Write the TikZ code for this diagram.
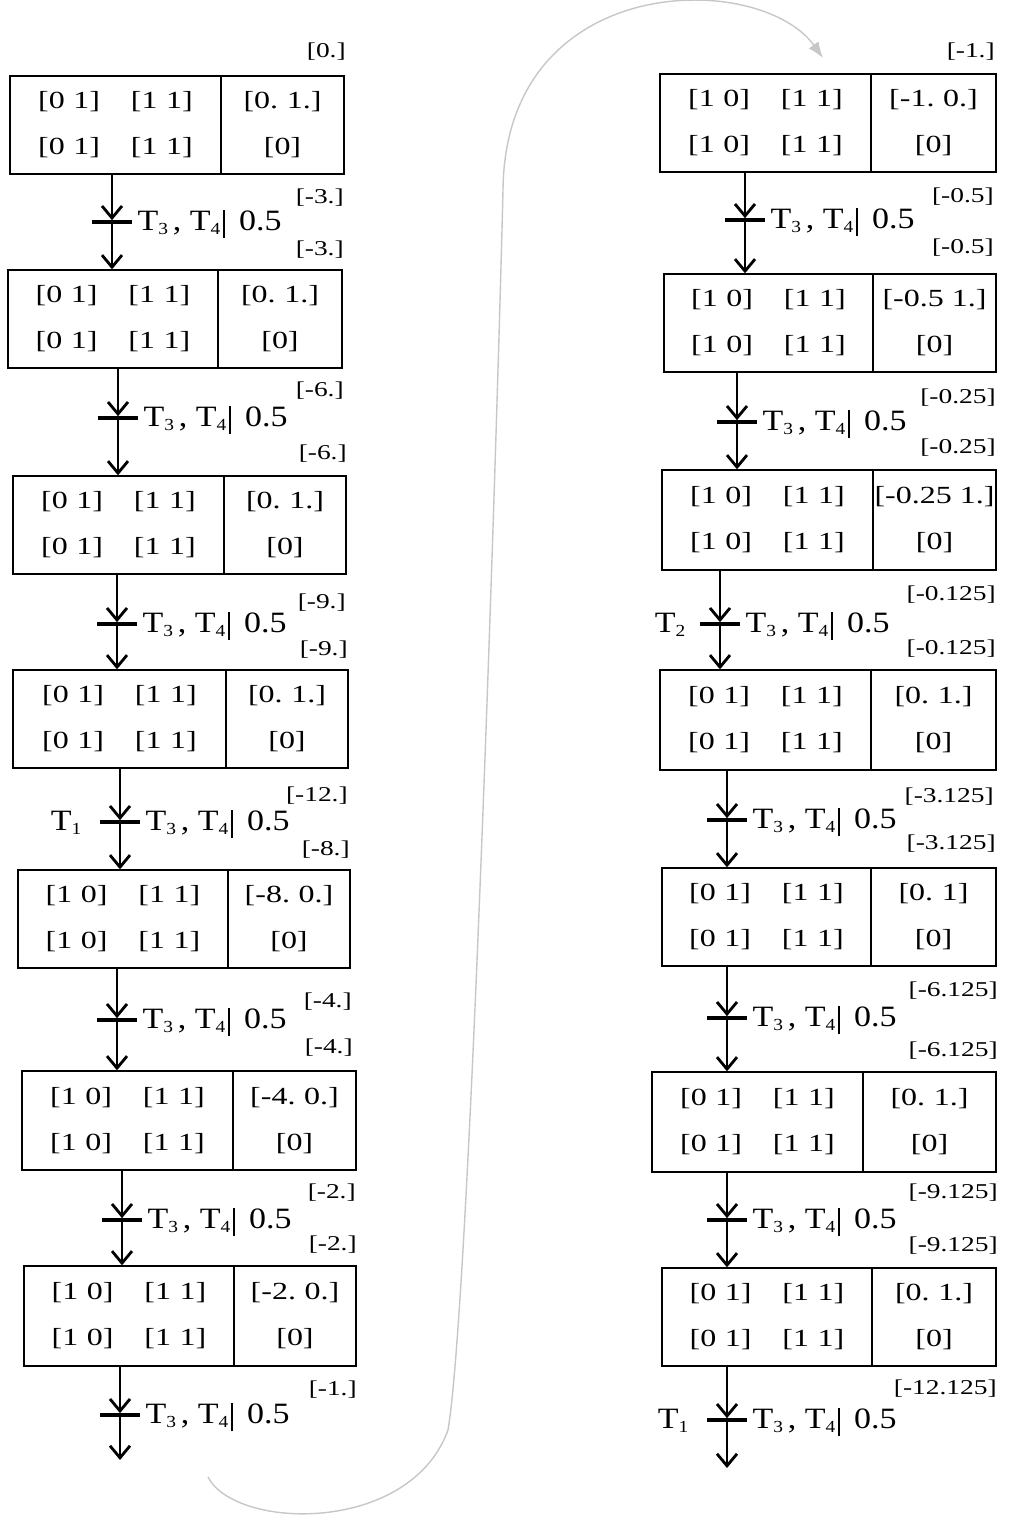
\documentclass[tikz,border=0pt]{standalone}
\usepackage{fontspec}
\setmainfont{Liberation Serif}[FakeStretch=1.3]
\newfontfamily\lblfont{Liberation Serif}[FakeStretch=1.15]
\usetikzlibrary{positioning, arrows.meta, calc}

\begin{document}
\begin{tikzpicture}[
  x=0.025cm, y=-0.025cm,
  cell/.style={draw=black, line width=1pt, inner sep=0pt, align=center,
               font=\fontsize{17.5}{32.7}\selectfont},
  trn/.style={fill=black, minimum width=1cm, minimum height=2.2pt, inner sep=0pt},
  tlbl/.style={font=\lblfont\fontsize{21}{24}\selectfont, inner sep=0pt},
  val/.style={font=\fontsize{15}{17}\selectfont, inner sep=0pt, anchor=east},
  sarr/.style={-{Straight Barb[length=3mm,width=5mm]}, line width=2pt},
  wrap/.style={-{Latex[length=4mm,width=3mm]}, line width=1pt, draw=black!22}
]
\useasboundingbox (0,0) rectangle (1008,1528);
\newcommand{\vecpr}[2]{[#1\hspace{0.35em}#2]}
\newcommand{\lrows}[2]{\vecpr{#1}{#2}\hspace{22pt}\vecpr{1}{1}\\\vecpr{#1}{#2}\hspace{22pt}\vecpr{1}{1}}
\newcommand{\stbox}[8]{%
  \pgfmathsetmacro\wa{(#3-#2)*0.025}\pgfmathsetmacro\wb{(#4-#3)*0.025}%
  \pgfmathsetmacro\hh{(#6-#5)*0.025}%
  \node[cell, minimum width=\wa cm, minimum height=\hh cm] (#1a)
    at ({(#2+#3)/2},{(#5+#6)/2}) {\lrows#7};
  \node[cell, minimum width=\wb cm, minimum height=\hh cm] (#1b)
    at ({(#3+#4)/2},{(#5+#6)/2}) {#8\\{[0]}};}
\newcommand{\sbs}[1]{\raisebox{-0.3ex}{\fontsize{12}{12}\selectfont #1}}
\newcommand{\tlab}{T\sbs{3}\,, T\sbs{4}\hspace{2pt}\rule[-6pt]{1.3pt}{20pt}\hspace{10pt}0.5}
% left column
\stbox{L1}{10}{221}{344}{76}{174}{{0}{1}}{[0.\hspace{0.35em}1.]}
\stbox{L2}{8}{218}{342}{270}{368}{{0}{1}}{[0.\hspace{0.35em}1.]}
\stbox{L3}{13}{224}{346}{476}{574}{{0}{1}}{[0.\hspace{0.35em}1.]}
\stbox{L4}{13}{226}{348}{670}{768}{{0}{1}}{[0.\hspace{0.35em}1.]}
\stbox{L5}{18}{228}{350}{870}{968}{{1}{0}}{[-8.\hspace{0.35em}0.]}
\stbox{L6}{22}{233}{356}{1071}{1170}{{1}{0}}{[-4.\hspace{0.35em}0.]}
\stbox{L7}{24}{234}{356}{1266}{1366}{{1}{0}}{[-2.\hspace{0.35em}0.]}
% right column
\stbox{R1}{660}{871}{996}{74}{172}{{1}{0}}{[-1.\hspace{0.35em}0.]}
\stbox{R2}{664}{873}{996}{274}{372}{{1}{0}}{[-0.5 1.]}
\stbox{R3}{662}{873}{996}{470}{570}{{1}{0}}{[-0.25 1.]}
\stbox{R4}{660}{871}{996}{670}{770}{{0}{1}}{[0.\hspace{0.35em}1.]}
\stbox{R5}{662}{871}{996}{868}{966}{{0}{1}}{[0.\hspace{0.35em}1]}
\stbox{R6}{652}{863}{996}{1072}{1172}{{0}{1}}{[0.\hspace{0.35em}1.]}
\stbox{R7}{662}{872}{996}{1268}{1366}{{0}{1}}{[0.\hspace{0.35em}1.]}
% transitions
\foreach \n/\x/\y in {tl1/112/222, tl2/118/418, tl3/117/624, tl4/120/822,
    tl5/117/1020, tl6/122/1220, tl7/120/1415, tr1/745/220, tr2/737/422,
    tr3/720/624, tr4/727/820, tr5/727/1018, tr6/727/1220, tr7/727/1420}{
  \node[trn] (\n) at (\x,\y) {};
  \node[tlbl, anchor=base west] (\n l) at ($(\n.east)+(5,8)$) {\tlab};}
\node[tlbl, anchor=base east] (t1a) at ($(tl4.west)+(-18,8)$) {T\sbs{1}};
\node[tlbl, anchor=base east] (t2a) at ($(tr3.west)+(-14,8)$) {T\sbs{2}};
\node[tlbl, anchor=base east] (t1b) at ($(tr7.west)+(-18,8)$) {T\sbs{1}};
% values
\node[val] (v0) at (346,52) {[0.]};
\node[val] (v1a) at (344,198) {[-3.]};
\node[val] (v1b) at (344,250) {[-3.]};
\node[val] (v2a) at (344,391) {[-6.]};
\node[val] (v2b) at (347,454) {[-6.]};
\node[val] (v3a) at (346,603) {[-9.]};
\node[val] (v3b) at (348,650) {[-9.]};
\node[val] (v4a) at (348,796) {[-12.]};
\node[val] (v4b) at (350,850) {[-8.]};
\node[val] (v5a) at (352,1002) {[-4.]};
\node[val] (v5b) at (353,1048) {[-4.]};
\node[val] (v6a) at (356,1193) {[-2.]};
\node[val] (v6b) at (357,1245) {[-2.]};
\node[val] (v7a) at (357,1390) {[-1.]};
\node[val] (w0) at (995,52) {[-1.]};
\node[val] (w1a) at (994,197) {[-0.5]};
\node[val] (w1b) at (994,248) {[-0.5]};
\node[val] (w2a) at (996,398) {[-0.25]};
\node[val] (w2b) at (996,448) {[-0.25]};
\node[val] (w3a) at (996,595) {[-0.125]};
\node[val] (w3b) at (996,649) {[-0.125]};
\node[val] (w4a) at (994,797) {[-3.125]};
\node[val] (w4b) at (996,844) {[-3.125]};
\node[val] (w5a) at (998,991) {[-6.125]};
\node[val] (w5b) at (998,1051) {[-6.125]};
\node[val] (w6a) at (998,1193) {[-9.125]};
\node[val] (w6b) at (998,1246) {[-9.125]};
\node[val] (w7a) at (997,1389) {[-12.125]};
% arcs
\coordinate (eL) at (120,1460);
\coordinate (eR) at (727,1468);
\foreach \p/\q/\r in {L1/tl1/L2, L2/tl2/L3, L3/tl3/L4, L4/tl4/L5, L5/tl5/L6,
    L6/tl6/L7, R1/tr1/R2, R2/tr2/R3, R3/tr3/R4, R4/tr4/R5, R5/tr5/R6, R6/tr6/R7}{
  \draw[sarr] (\p a.south -| \q) -- (\q);
  \draw[sarr] (\q) -- (\r a.north -| \q);}
\draw[sarr] (L7a.south -| tl7) -- (tl7);
\draw[sarr] (tl7) -- (eL);
\draw[sarr] (R7a.south -| tr7) -- (tr7);
\draw[sarr] (tr7) -- (eR);
% column wrap
\coordinate (wS) at (208,1477);
\coordinate (wE) at (823,58);
\draw[wrap] (wS) .. controls (235,1530) and (410,1535) .. (448,1430)
  .. controls (470,1300) and (498,400) .. (503,190)
  .. controls (505,-30) and (760,-30) .. (wE);
\end{tikzpicture}
\end{document}
